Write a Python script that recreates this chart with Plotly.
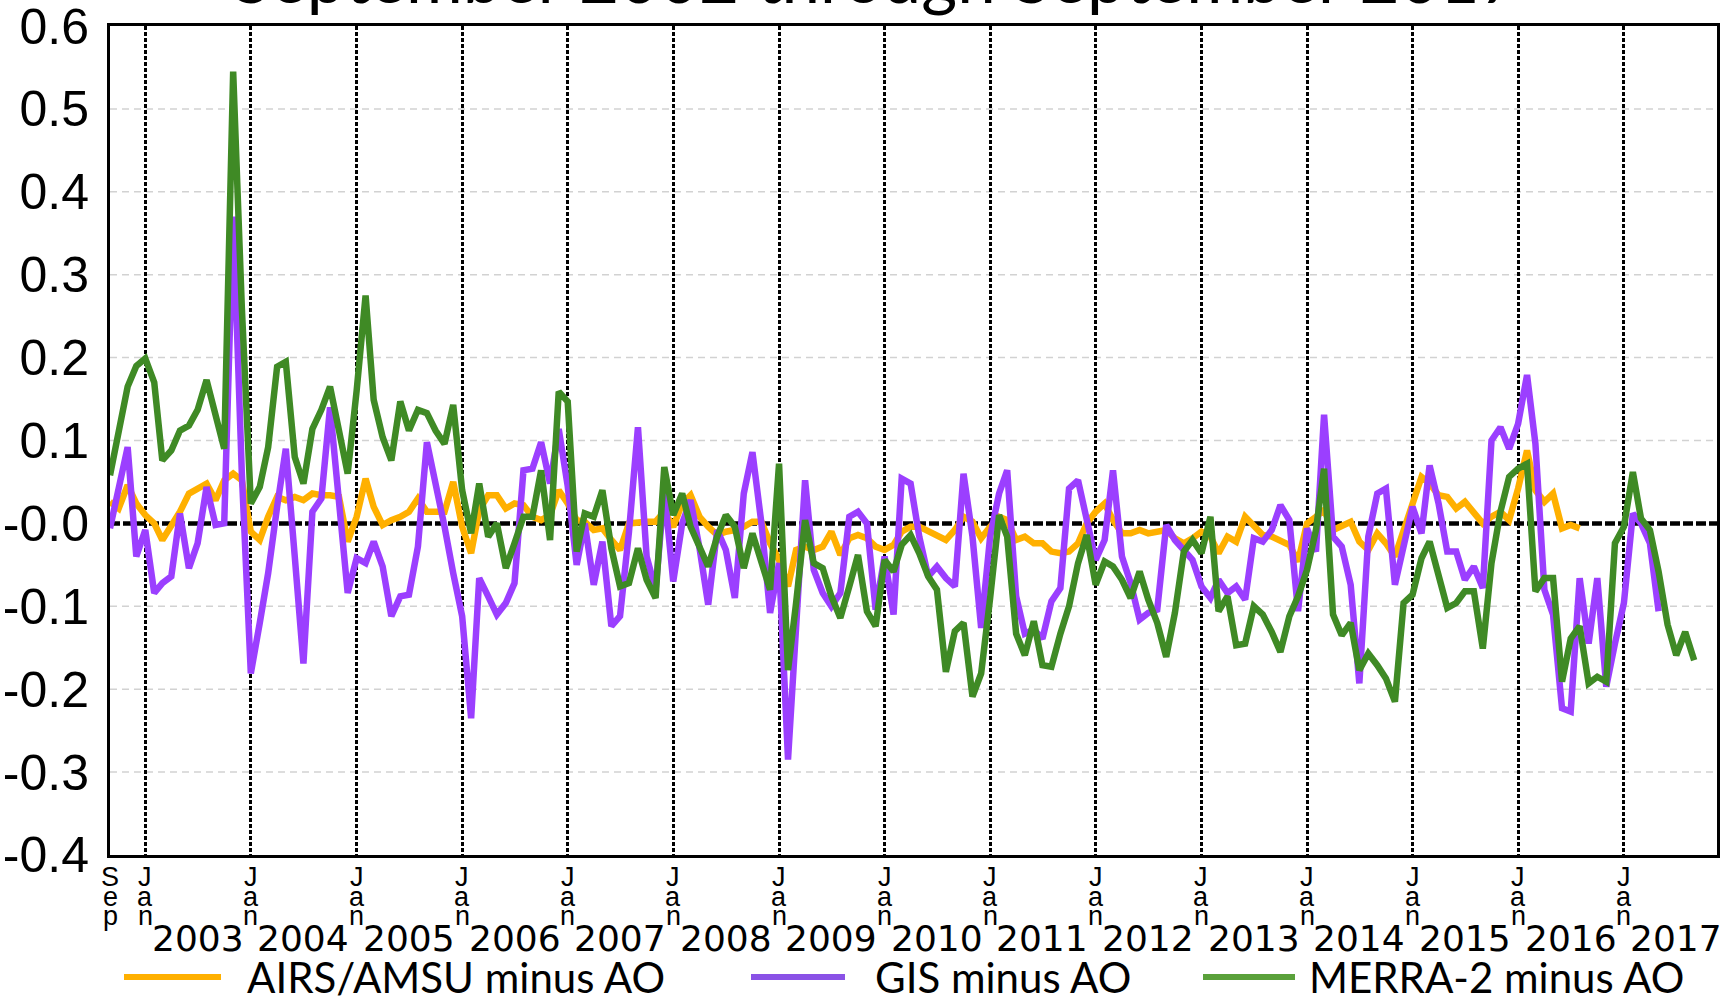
import pandas as pd
import plotly.graph_objects as go

# ---------------- data (monthly, starting Sep 2002) ----------------
start_month = "2002-09-01"

airs_minus_ao = [
    0.026, 0.018, 0.046, 0.024,
    0.010, 0.000, -0.020, -0.004, 0.014, 0.036, 0.042, 0.048, 0.028, 0.052, 0.060, 0.052,
    -0.010, -0.020, 0.008, 0.032, 0.028, 0.032, 0.028, 0.036, 0.034, 0.034, 0.032, -0.022,
    0.008, 0.054, 0.020, -0.002, 0.004, 0.008, 0.014, 0.030, 0.014, 0.014, 0.014, 0.050,
    -0.004, -0.036, 0.016, 0.034, 0.034, 0.018, 0.024, 0.022, 0.008, 0.004, 0.010, 0.040,
    0.024, 0.004, 0.002, -0.008, -0.006, -0.020, -0.032, 0.000, 0.002, 0.002, 0.002, 0.014,
    -0.004, 0.024, 0.034, 0.008, -0.004, -0.014, -0.010, -0.008, -0.004, 0.002, 0.002, -0.024,
    -0.044, -0.076, -0.032, -0.028, -0.032, -0.028, -0.010, -0.038, -0.018, -0.014, -0.018, -0.028,
    -0.032, -0.026, -0.010, -0.004, -0.004, -0.010, -0.016, -0.020, -0.008, 0.008, 0.002, -0.018,
    -0.004, 0.008, 0.004, -0.020, -0.016, -0.024, -0.024, -0.034, -0.036, -0.034, -0.024, 0.000,
    0.014, 0.024, 0.004, -0.012, -0.012, -0.008, -0.012, -0.010, -0.008, -0.018, -0.024, -0.018,
    -0.010, -0.016, -0.036, -0.016, -0.022, 0.008, -0.004, -0.014, -0.016, -0.020, -0.026, -0.046,
    0.000, 0.008, 0.016, -0.008, -0.004, 0.002, -0.022, -0.032, -0.012, -0.024, -0.040, -0.008,
    0.026, 0.056, 0.048, 0.034, 0.032, 0.018, 0.026, 0.014, 0.000, 0.008, 0.014, 0.004,
    0.042, 0.088, 0.040, 0.026, 0.036, -0.006, -0.002, -0.006,
]

gis_minus_ao = [
    -0.006, 0.045, 0.092, -0.040,
    -0.008, -0.084, -0.072, -0.064, 0.012, -0.054, -0.024, 0.044, -0.002, 0.000, 0.370, 0.060,
    -0.181, -0.120, -0.060, 0.020, 0.090, -0.040, -0.169, 0.014, 0.030, 0.140, 0.030, -0.084,
    -0.042, -0.048, -0.022, -0.052, -0.112, -0.088, -0.086, -0.028, 0.098, 0.052, -0.004, -0.060,
    -0.112, -0.235, -0.066, -0.088, -0.110, -0.096, -0.072, 0.064, 0.066, 0.098, 0.048, 0.114,
    0.045, -0.050, 0.000, -0.074, -0.022, -0.124, -0.112, -0.010, 0.116, -0.040, -0.080, 0.040,
    -0.070, 0.000, 0.028, -0.030, -0.098, -0.008, -0.032, -0.090, 0.036, 0.086, 0.000, -0.108,
    -0.048, -0.285, -0.120, 0.052, -0.056, -0.084, -0.100, -0.084, 0.008, 0.014, 0.000, -0.104,
    -0.040, -0.110, 0.054, 0.048, -0.016, -0.064, -0.052, -0.066, -0.076, 0.060, -0.016, -0.126,
    -0.016, 0.036, 0.064, -0.088, -0.133, -0.128, -0.139, -0.094, -0.078, 0.042, 0.052, 0.008,
    -0.044, -0.020, 0.064, -0.040, -0.072, -0.116, -0.108, -0.104, -0.002, -0.020, -0.032, -0.044,
    -0.076, -0.090, -0.068, -0.084, -0.076, -0.092, -0.018, -0.022, -0.008, 0.022, 0.004, -0.106,
    -0.006, -0.034, 0.131, -0.016, -0.028, -0.074, -0.193, -0.016, 0.036, 0.042, -0.074, -0.024,
    0.020, -0.012, 0.070, 0.024, -0.034, -0.034, -0.068, -0.052, -0.078, 0.100, 0.116, 0.090,
    0.120, 0.179, 0.096, -0.080, -0.110, -0.223, -0.227, -0.066, -0.145, -0.066, -0.197, -0.145,
    -0.096, 0.012, 0.000, -0.024, -0.106,
]

merra2_minus_ao = [
    0.058, 0.110, 0.165, 0.190,
    0.199, 0.170, 0.076, 0.088, 0.112, 0.118, 0.137, 0.173, 0.128, 0.090, 0.545, 0.260,
    0.024, 0.044, 0.092, 0.189, 0.195, 0.080, 0.048, 0.114, 0.137, 0.165, 0.112, 0.060,
    0.160, 0.275, 0.149, 0.104, 0.076, 0.147, 0.112, 0.137, 0.133, 0.112, 0.096, 0.143,
    0.040, -0.012, 0.048, -0.016, 0.000, -0.054, -0.024, 0.008, 0.008, 0.064, -0.020, 0.159,
    0.147, -0.034, 0.012, 0.008, 0.040, -0.030, -0.076, -0.072, -0.030, -0.068, -0.090, 0.068,
    0.010, 0.036, -0.004, -0.028, -0.052, -0.016, 0.010, -0.004, -0.054, -0.012, -0.048, -0.080,
    0.072, -0.177, -0.096, 0.004, -0.048, -0.054, -0.088, -0.114, -0.076, -0.038, -0.106, -0.124,
    -0.044, -0.058, -0.026, -0.014, -0.036, -0.064, -0.080, -0.179, -0.130, -0.120, -0.209, -0.181,
    -0.090, 0.010, -0.016, -0.133, -0.159, -0.118, -0.171, -0.173, -0.133, -0.100, -0.048, -0.014,
    -0.074, -0.046, -0.052, -0.068, -0.090, -0.058, -0.092, -0.120, -0.161, -0.108, -0.034, -0.020,
    -0.036, 0.008, -0.106, -0.088, -0.147, -0.145, -0.100, -0.110, -0.131, -0.155, -0.112, -0.088,
    -0.056, -0.008, 0.066, -0.110, -0.135, -0.120, -0.177, -0.157, -0.171, -0.187, -0.215, -0.096,
    -0.086, -0.042, -0.022, -0.066, -0.102, -0.096, -0.082, -0.082, -0.151, -0.048, 0.014, 0.056,
    0.066, 0.072, -0.082, -0.066, -0.066, -0.191, -0.139, -0.124, -0.193, -0.185, -0.191, -0.024,
    -0.004, 0.062, 0.006, -0.008, -0.058, -0.122, -0.159, -0.131, -0.165,
]

series_names = ["AIRS/AMSU minus AO", "GIS minus AO", "MERRA-2 minus AO"]
series_colors = ["#FFB000", "#9B3FFF", "#3F8A25"]
legend_colors = ["#FFB000", "#8A52E6", "#5AA13B"]

years = list(range(2003, 2018))
y_ticks = [0.6, 0.5, 0.4, 0.3, 0.2, 0.1, 0.0, -0.1, -0.2, -0.3, -0.4]
y_ticktext = ["0.6", "0.5", "0.4", "0.3", "0.2", "0.1", "-0.0",
              "-0.1", "-0.2", "-0.3", "-0.4"]
title_text = "September 2002 through September 2017"

# ---------------- figure ----------------
months = pd.date_range(start_month, periods=len(merra2_minus_ao), freq="MS")

fig = go.Figure()
for vals, name, col in zip([airs_minus_ao, gis_minus_ao, merra2_minus_ao], series_names, series_colors):
    fig.add_trace(go.Scatter(
        x=months[:len(vals)], y=vals, mode="lines", name=name,
        line=dict(color=col, width=6.5), showlegend=False,
    ))

tickfam = "Liberation Sans, Arial, sans-serif"
jan_dates = [f"{y}-01-01" for y in years]

fig.update_layout(
    width=1733, height=996,
    margin=dict(l=110, r=16, t=26, b=141),
    paper_bgcolor="white", plot_bgcolor="white",
    xaxis=dict(
        type="date", range=["2002-09-01", "2017-11-19"], automargin=False,
        tickvals=jan_dates, showticklabels=False, ticks="",
        showgrid=True, gridcolor="black", gridwidth=2.5, griddash="4px,2px",
        showline=True, linecolor="black", linewidth=3, mirror=True,
        zeroline=False,
    ),
    yaxis=dict(
        range=[-0.40001, 0.60001], tickvals=y_ticks, ticktext=y_ticktext, automargin=False,
        tickfont=dict(family=tickfam, size=50, color="black"),
        ticks="", ticklabelstandoff=8, ticklabeloverflow="allow",
        showgrid=False,
        showline=True, linecolor="black", linewidth=3, mirror=True,
        zeroline=False,
    ),
)

# light dashed horizontal grid (every 0.1 except the zero line and the frame)
for yv in y_ticks:
    if yv in (0.0, 0.6, -0.4):
        continue
    fig.add_shape(type="line", xref="paper", yref="y", x0=0, x1=1, y0=yv, y1=yv,
                  line=dict(color="#d2d2d2", width=1.5, dash="7px,5px"), layer="below")

# zero line (heavy dashed)
fig.add_shape(type="line", xref="paper", yref="y", x0=0, x1=1, y0=0, y1=0,
              line=dict(color="black", width=4.5, dash="10px,3px"), layer="between")

annotations = []
# stacked month labels
tick_labels = [("2002-09-01", "Sep")] + [(d, "Jan") for d in jan_dates]
for xd, word in tick_labels:
    for i, ch in enumerate(word):
        annotations.append(dict(
            x=xd, y=0, xref="x", yref="paper", text=ch, showarrow=False,
            xanchor="center", yanchor="middle", yshift=-22 - 19.5 * i,
            font=dict(family=tickfam, size=27, color="black"),
        ))
# year labels at mid-year
for y in years:
    annotations.append(dict(
        x=f"{y}-07-01", y=0, xref="x", yref="paper", text=str(y), showarrow=False,
        xanchor="center", yanchor="middle", yshift=-83,
        font=dict(family="DejaVu Sans", size=36, color="black"),
    ))

# title (cut off at the top of the image)
annotations.append(dict(
    x=0.4767, y=1.0, xref="paper", yref="paper", text=title_text, showarrow=False,
    xanchor="center", yanchor="bottom", yshift=6,
    font=dict(family="Lato", size=69, color="black"),
))

# manual legend
plot_l, plot_r, plot_t, plot_b = 110, 1717, 26, 855
def px_x(p):
    return (p - plot_l) / (plot_r - plot_l)
def px_y(p):
    return (plot_b - p) / (plot_b - plot_t)

legend_line_px = [(124, 221), (751, 845), (1203, 1295)]
legend_text_px = [245, 873, 1307]
leg_y = 977
for (x0, x1), tx, name, col in zip(legend_line_px, legend_text_px, series_names, legend_colors):
    fig.add_shape(type="line", xref="paper", yref="paper",
                  x0=px_x(x0), x1=px_x(x1), y0=px_y(leg_y), y1=px_y(leg_y),
                  line=dict(color=col, width=6))
    annotations.append(dict(
        x=px_x(tx), y=px_y(leg_y), xref="paper", yref="paper", text=name,
        showarrow=False, xanchor="left", yanchor="middle", yshift=0,
        font=dict(family="Lato", size=42, color="black"),
    ))

fig.update_layout(annotations=annotations)
fig.write_html("out.html")
